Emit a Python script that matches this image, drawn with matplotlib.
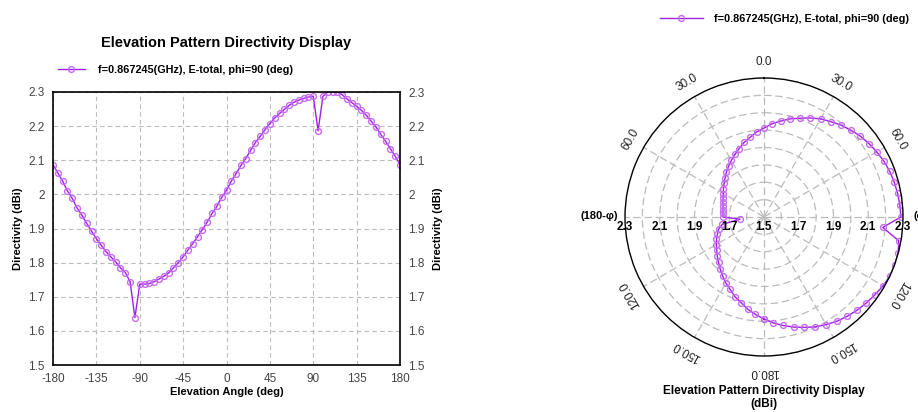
import numpy as np
import matplotlib
matplotlib.use('Agg')
from matplotlib import pyplot as plt

plt.rcParams['font.family'] = ['Liberation Sans', 'DejaVu Sans']
plt.rcParams['axes.unicode_minus'] = False

# elevation angles, 5 deg steps
angles = list(range(-180, 185, 5))
directivity = [
    2.087, 2.063, 2.039, 2.010, 1.988, 1.960, 1.939, 1.915, 1.892, 1.870,
    1.851, 1.832, 1.817, 1.802, 1.785, 1.771, 1.744, 1.639, 1.737, 1.737,
    1.739, 1.744, 1.752, 1.760, 1.770, 1.785, 1.800, 1.817, 1.837, 1.856,
    1.876, 1.897, 1.919, 1.944, 1.965, 1.991, 2.012, 2.039, 2.061, 2.085,
    2.105, 2.129, 2.152, 2.170, 2.190, 2.207, 2.224, 2.237, 2.249, 2.261,
    2.270, 2.276, 2.281, 2.285, 2.288, 2.186, 2.287, 2.300, 2.300, 2.300,
    2.292, 2.280, 2.269, 2.258, 2.246, 2.232, 2.215, 2.198, 2.176, 2.156,
    2.134, 2.112, 2.087,
]
series_label = 'f=0.867245(GHz), E-total, phi=90 (deg)'
title = 'Elevation Pattern Directivity Display'
xticks = [-180, -135, -90, -45, 0, 45, 90, 135, 180]
yticks = [1.5, 1.6, 1.7, 1.8, 1.9, 2.0, 2.1, 2.2, 2.3]
ytick_labels = ['1.5', '1.6', '1.7', '1.8', '1.9', '2', '2.1', '2.2', '2.3']
r_labels = ['1.5', '1.7', '1.9', '2.1', '2.3']
theta_labels = {0: '0.0', 30: '30.0', 60: '60.0', 120: '120.0', 150: '150.0', 180: '180.0',
                -30: '30.0', -60: '60.0', -120: '120.0', -150: '150.0'}

line_c = '#9F1FE6'
mark_c = '#C46CF2'
grid_c = '#BBBBBB'
W, H = 918, 412

fig = plt.figure(figsize=(W / 100, H / 100), dpi=100)

# ---- rectangular plot
ax = fig.add_axes([53 / W, 1 - 365 / H, 347 / W, 273 / H])
ax.plot(angles, directivity, color=line_c, lw=1, marker='o', ms=4.2,
        mfc='none', mec=mark_c, mew=1, label=series_label)
ax.set_xlim(-180, 180)
ax.set_ylim(1.5, 2.3)
ax.set_xticks(xticks)
ax.set_yticks(yticks)
ax.set_yticklabels(ytick_labels)
ax.grid(True, ls=(0, (4, 3)), color=grid_c, lw=0.8)
ax.tick_params(length=0, labelsize=8.5, labelcolor='#444444', pad=6)
for s in ax.spines.values():
    s.set_linewidth(1.2)
ax.set_xlabel('Elevation Angle (deg)', fontsize=8, fontweight='bold', labelpad=1)
ax.set_ylabel('Directivity (dBi)', fontsize=8, fontweight='bold', labelpad=4)

ax2 = ax.twinx()
ax2.set_ylim(1.5, 2.3)
ax2.set_yticks(yticks)
ax2.set_yticklabels(ytick_labels)
ax2.tick_params(length=0, labelsize=8.5, labelcolor='#444444', pad=6)
ax2.set_ylabel('Directivity (dBi)', fontsize=8, fontweight='bold', labelpad=6)
for s in ax2.spines.values():
    s.set_visible(False)

fig.text(226 / W, 1 - 43 / H, title, ha='center', va='center', fontsize=10.5, fontweight='bold')
fig.legend(*ax.get_legend_handles_labels(), loc='center left',
           bbox_to_anchor=(48 / W, 1 - 70 / H), frameon=False,
           prop={'size': 7.8, 'weight': 'bold'}, handlelength=2.5, handletextpad=1.2)

# ---- polar plot
pax = fig.add_axes([625 / W, 1 - 356 / H, 278 / W, 278 / H], projection='polar')
pax.set_theta_zero_location('N')
pax.set_theta_direction(-1)
pax.plot(np.deg2rad(angles), directivity, color=line_c, lw=1, marker='o', ms=4.2,
         mfc='none', mec=mark_c, mew=1, label=series_label)
pax.set_rlim(1.5, 2.3)
pax.set_rticks([1.6, 1.7, 1.8, 1.9, 2.0, 2.1, 2.2])
pax.set_yticklabels([])
pax.set_thetagrids(range(0, 360, 30), [''] * 12)
pax.grid(True, ls=(0, (6, 3)), color=grid_c, lw=0.9)
pax.spines['polar'].set_linewidth(1)

for i, lab in enumerate(r_labels):
    r = 1.5 + 0.2 * i
    sides = [90] if i == 0 else [90, -90]
    for a in sides:
        pax.annotate(lab, xy=(np.deg2rad(a), r), xytext=(0, -3), textcoords='offset points',
                     ha='center', va='top', fontsize=8.5, fontweight='bold', annotation_clip=False)

for a, lab in theta_labels.items():
    pax.text(np.deg2rad(a), 2.39, lab, rotation=-a, rotation_mode='anchor',
             ha='center', va='center', fontsize=8.5, color='#222222', clip_on=False)

fig.text(599 / W, 1 - 216 / H, '(180-\u03c6)', ha='center', va='center',
         fontsize=8, fontweight='bold')
# the right-hand label sits on the figure edge, as in the reference
fig.text(913 / W, 1 - 216 / H, '(\u03c6)', ha='left', va='center',
         fontsize=8, fontweight='bold')

fig.legend(*pax.get_legend_handles_labels(), loc='center left',
           bbox_to_anchor=(650 / W, 1 - 19 / H), frameon=False,
           prop={'size': 7.8, 'weight': 'bold'}, handlelength=4.0, handletextpad=1.0)
fig.text(764 / W, 1 - 391 / H, title, ha='center', va='center', fontsize=8.5, fontweight='bold')
fig.text(764 / W, 1 - 404 / H, '(dBi)', ha='center', va='center', fontsize=8.5, fontweight='bold')

fig.savefig('out.png', dpi=100)
